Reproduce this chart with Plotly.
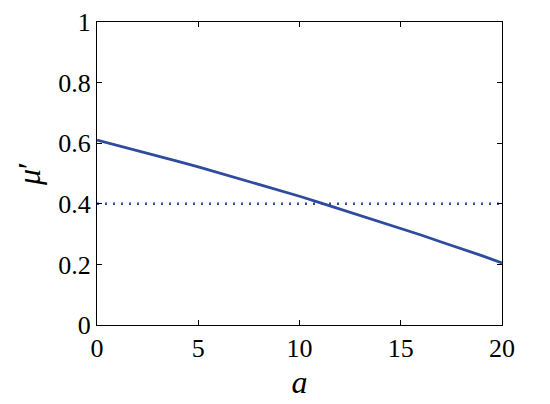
import plotly.graph_objects as go

# valores
a_vals = [0, 1, 2, 3, 4, 5, 6, 7, 8, 9, 10, 11, 12, 13, 14, 15, 16, 17, 18, 19, 20]
mu_vals = [0.610, 0.593, 0.576, 0.558, 0.540, 0.522, 0.503, 0.484, 0.464, 0.445, 0.425,
           0.404, 0.383, 0.362, 0.341, 0.319, 0.297, 0.274, 0.252, 0.229, 0.205]
limiar_x = [0, 20]
limiar_y = [0.4, 0.4]

cor = "#2e4b9e"
fonte = "Liberation Serif"

fig = go.Figure()
fig.add_trace(go.Scatter(x=a_vals, y=mu_vals, mode="lines",
                         line=dict(color=cor, width=2.8), showlegend=False))
fig.add_trace(go.Scatter(x=limiar_x, y=limiar_y, mode="lines",
                         line=dict(color=cor, width=2.5, dash="2px,6px"), showlegend=False))

eixo = dict(showgrid=False, zeroline=False, showline=True, linecolor="black", linewidth=1.2,
            mirror="ticks", ticks="inside", ticklen=5, tickcolor="black", automargin=False,
            ticklabeloverflow="allow",
            tickfont=dict(family=fonte, size=26, color="black"))

# a página tem margem de 8px no body, por isso a figura é um pouco menor
fig.update_layout(
    width=542, height=396,
    margin=dict(l=89, r=48, t=14, b=79),
    plot_bgcolor="white", paper_bgcolor="white",
    xaxis=dict(eixo, range=[0, 20], tickvals=[0, 5, 10, 15, 20],
               title=dict(text="<i>a</i>", font=dict(family=fonte, size=32, color="black"), standoff=8)),
    yaxis=dict(eixo, range=[0, 1], tickvals=[0, 0.2, 0.4, 0.6, 0.8, 1],
               ticktext=["0", "0.2", "0.4", "0.6", "0.8", "1"],
               title=dict(text="<i>μ</i>′", font=dict(family=fonte, size=32, color="black"), standoff=8)),
)

fig.write_html("out.html")
